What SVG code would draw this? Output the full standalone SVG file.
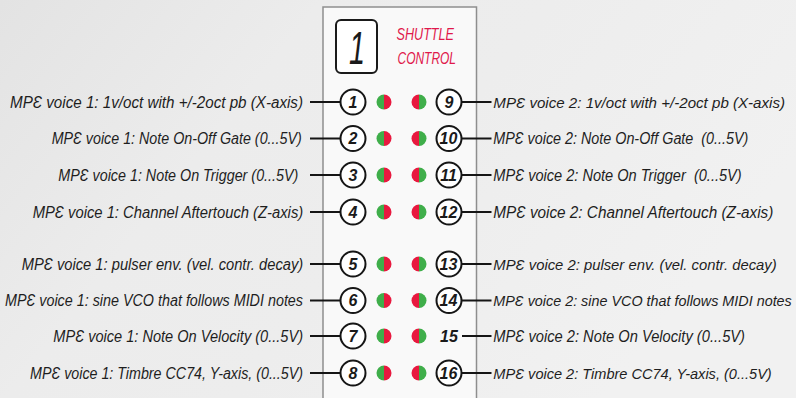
<svg xmlns="http://www.w3.org/2000/svg" width="796" height="398" viewBox="0 0 796 398">
  <defs>
    <linearGradient id="bg" x1="0" y1="0" x2="1" y2="0.4">
      <stop offset="0" stop-color="#e3e3e3"/>
      <stop offset="0.35" stop-color="#ececec"/>
      <stop offset="0.6" stop-color="#ededed"/>
      <stop offset="1" stop-color="#f1f1f1"/>
    </linearGradient>
    <linearGradient id="ledL" x1="0" y1="0" x2="1" y2="0">
      <stop offset="0.5" stop-color="#3fae4a"/>
      <stop offset="0.5" stop-color="#e8193f"/>
    </linearGradient>
    <linearGradient id="ledR" x1="0" y1="0" x2="1" y2="0">
      <stop offset="0.5" stop-color="#e8193f"/>
      <stop offset="0.5" stop-color="#3fae4a"/>
    </linearGradient>
  </defs>
  <style>
    .lbl { font-family: "Liberation Sans", Arial, sans-serif; font-style: italic; font-size: 16px; fill: #1e1e1e; }
    .r15 { font-size: 15px; }
    .r14 { font-size: 14px; }
    .num { font-family: "Liberation Sans", Arial, sans-serif; font-style: italic; font-weight: bold; font-size: 16px; fill: #1a1a1a; text-anchor: middle; }
    .jack { fill: #ffffff; stroke: #151515; stroke-width: 2; }
    .wire { stroke: #151515; stroke-width: 2; fill: none; }
    .title { font-family: "Liberation Sans", Arial, sans-serif; font-style: italic; font-size: 16px; fill: #e0184b; }
  </style>
  <rect x="0" y="0" width="796" height="398" fill="url(#bg)"/>

  <g id="panel">
    <rect x="323" y="7" width="153.5" height="400" fill="#f9f9f9" stroke="#8e8e8e" stroke-width="1.5"/>
    <rect x="336" y="20" width="41" height="53" rx="5" fill="#ffffff" stroke="#1a1a1a" stroke-width="2"/>
    <text x="349" y="64" font-family="'Liberation Sans', Arial, sans-serif" font-style="italic" font-size="46" fill="#1a1a1a" textLength="16" lengthAdjust="spacingAndGlyphs">1</text>
    <text class="title" x="396.5" y="40" textLength="57.5" lengthAdjust="spacingAndGlyphs">SHUTTLE</text>
    <text class="title" x="397.5" y="63.5" textLength="58.5" lengthAdjust="spacingAndGlyphs">CONTROL</text>
  </g>

  <g id="connectors">
    <line class="wire" x1="310" y1="102" x2="340" y2="102"/>
    <line class="wire" x1="310" y1="138.5" x2="340" y2="138.5"/>
    <line class="wire" x1="310" y1="175" x2="340" y2="175"/>
    <line class="wire" x1="310" y1="212" x2="340" y2="212"/>
    <line class="wire" x1="310" y1="264" x2="340" y2="264"/>
    <line class="wire" x1="310" y1="300.5" x2="340" y2="300.5"/>
    <line class="wire" x1="310" y1="336" x2="340" y2="336"/>
    <line class="wire" x1="310" y1="373" x2="340" y2="373"/>
    <line class="wire" x1="462" y1="102" x2="491.5" y2="102"/>
    <line class="wire" x1="462" y1="138.5" x2="491.5" y2="138.5"/>
    <line class="wire" x1="462" y1="175" x2="491.5" y2="175"/>
    <line class="wire" x1="462" y1="212" x2="491.5" y2="212"/>
    <line class="wire" x1="462" y1="264" x2="491.5" y2="264"/>
    <line class="wire" x1="462" y1="300.5" x2="491.5" y2="300.5"/>
    <line class="wire" x1="462" y1="336" x2="491.5" y2="336"/>
    <line class="wire" x1="462" y1="373" x2="491.5" y2="373"/>
  </g>

  <g id="leds">
    <circle cx="384" cy="102" r="7.5" fill="url(#ledL)"/>
    <circle cx="384" cy="138.5" r="7.5" fill="url(#ledL)"/>
    <circle cx="384" cy="175" r="7.5" fill="url(#ledL)"/>
    <circle cx="384" cy="212" r="7.5" fill="url(#ledL)"/>
    <circle cx="384" cy="264" r="7.5" fill="url(#ledL)"/>
    <circle cx="384" cy="300.5" r="7.5" fill="url(#ledL)"/>
    <circle cx="384" cy="336" r="7.5" fill="url(#ledL)"/>
    <circle cx="384" cy="373" r="7.5" fill="url(#ledL)"/>
    <circle cx="419" cy="102" r="7.5" fill="url(#ledR)"/>
    <circle cx="419" cy="138.5" r="7.5" fill="url(#ledR)"/>
    <circle cx="419" cy="175" r="7.5" fill="url(#ledR)"/>
    <circle cx="419" cy="212" r="7.5" fill="url(#ledR)"/>
    <circle cx="419" cy="264" r="7.5" fill="url(#ledR)"/>
    <circle cx="419" cy="300.5" r="7.5" fill="url(#ledR)"/>
    <circle cx="419" cy="336" r="7.5" fill="url(#ledR)"/>
    <circle cx="419" cy="373" r="7.5" fill="url(#ledR)"/>
  </g>

  <g id="out1"><circle class="jack" cx="353" cy="102" r="12.5"/><text class="num" x="353" y="107.5">1</text>
    <text class="lbl" x="10" y="107.5" textLength="293" lengthAdjust="spacingAndGlyphs">MPƐ voice 1: 1v/oct with +/-2oct pb (X-axis)</text></g>
  <g id="out2"><circle class="jack" cx="353" cy="138.5" r="12.5"/><text class="num" x="353" y="144">2</text>
    <text class="lbl" x="51.7" y="144" textLength="250" lengthAdjust="spacingAndGlyphs">MPƐ voice 1: Note On-Off Gate (0...5V)</text></g>
  <g id="out3"><circle class="jack" cx="353" cy="175" r="12.5"/><text class="num" x="353" y="180.5">3</text>
    <text class="lbl" x="58.3" y="180.5" textLength="240" lengthAdjust="spacingAndGlyphs">MPƐ voice 1: Note On Trigger (0...5V)</text></g>
  <g id="out4"><circle class="jack" cx="353" cy="212" r="12.5"/><text class="num" x="353" y="217.5">4</text>
    <text class="lbl" x="32.7" y="217.5" textLength="270.5" lengthAdjust="spacingAndGlyphs">MPƐ voice 1: Channel Aftertouch (Z-axis)</text></g>
  <g id="out5"><circle class="jack" cx="353" cy="264" r="12.5"/><text class="num" x="353" y="269.5">5</text>
    <text class="lbl" x="21.7" y="269.5" textLength="281.5" lengthAdjust="spacingAndGlyphs">MPƐ voice 1: pulser env. (vel. contr. decay)</text></g>
  <g id="out6"><circle class="jack" cx="353" cy="300.5" r="12.5"/><text class="num" x="353" y="306">6</text>
    <text class="lbl" x="5" y="306" textLength="298" lengthAdjust="spacingAndGlyphs">MPƐ voice 1: sine VCO that follows MIDI notes</text></g>
  <g id="out7"><circle class="jack" cx="353" cy="336" r="12.5"/><text class="num" x="353" y="341.5">7</text>
    <text class="lbl" x="53.3" y="341.5" textLength="249.7" lengthAdjust="spacingAndGlyphs">MPƐ voice 1: Note On Velocity (0...5V)</text></g>
  <g id="out8"><circle class="jack" cx="353" cy="373" r="12.5"/><text class="num" x="353" y="378.5">8</text>
    <text class="lbl" x="30" y="378.5" textLength="273" lengthAdjust="spacingAndGlyphs">MPƐ voice 1: Timbre CC74, Y-axis, (0...5V)</text></g>

  <g id="out9"><circle class="jack" cx="449" cy="102" r="12.5"/><text class="num" x="449" y="107.5">9</text>
    <text class="lbl r15" x="493.3" y="107.5" textLength="291.7" lengthAdjust="spacingAndGlyphs">MPƐ voice 2: 1v/oct with +/-2oct pb (X-axis)</text></g>
  <g id="out10"><circle class="jack" cx="449" cy="138.5" r="12.5"/><text class="num" x="448.5" y="144">10</text>
    <text class="lbl" x="493.3" y="144" textLength="255" lengthAdjust="spacingAndGlyphs" xml:space="preserve">MPƐ voice 2: Note On-Off Gate  (0...5V)</text></g>
  <g id="out11"><circle class="jack" cx="449" cy="175" r="12.5"/><text class="num" x="448.5" y="180.5">11</text>
    <text class="lbl" x="493.3" y="180.5" textLength="248.4" lengthAdjust="spacingAndGlyphs" xml:space="preserve">MPƐ voice 2: Note On Trigger  (0...5V)</text></g>
  <g id="out12"><circle class="jack" cx="449" cy="212" r="12.5"/><text class="num" x="448.5" y="217.5">12</text>
    <text class="lbl" x="493.3" y="217.5" textLength="280" lengthAdjust="spacingAndGlyphs">MPƐ voice 2: Channel Aftertouch (Z-axis)</text></g>
  <g id="out13"><circle class="jack" cx="449" cy="264" r="12.5"/><text class="num" x="448.5" y="269.5">13</text>
    <text class="lbl r15" x="493.3" y="269.5" textLength="283.4" lengthAdjust="spacingAndGlyphs">MPƐ voice 2: pulser env. (vel. contr. decay)</text></g>
  <g id="out14"><circle class="jack" cx="449" cy="300.5" r="12.5"/><text class="num" x="448.5" y="306">14</text>
    <text class="lbl r14" x="493.3" y="306" textLength="298.5" lengthAdjust="spacingAndGlyphs">MPƐ voice 2: sine VCO that follows MIDI notes</text></g>
  <g id="out15"><text class="num" x="449" y="341.5">15</text>
    <text class="lbl" x="493.3" y="341.5" textLength="251.7" lengthAdjust="spacingAndGlyphs">MPƐ voice 2: Note On Velocity (0...5V)</text></g>
  <g id="out16"><circle class="jack" cx="449" cy="373" r="12.5"/><text class="num" x="448.5" y="378.5">16</text>
    <text class="lbl r15" x="493.3" y="378.5" textLength="278.4" lengthAdjust="spacingAndGlyphs">MPƐ voice 2: Timbre CC74, Y-axis, (0...5V)</text></g>
</svg>
